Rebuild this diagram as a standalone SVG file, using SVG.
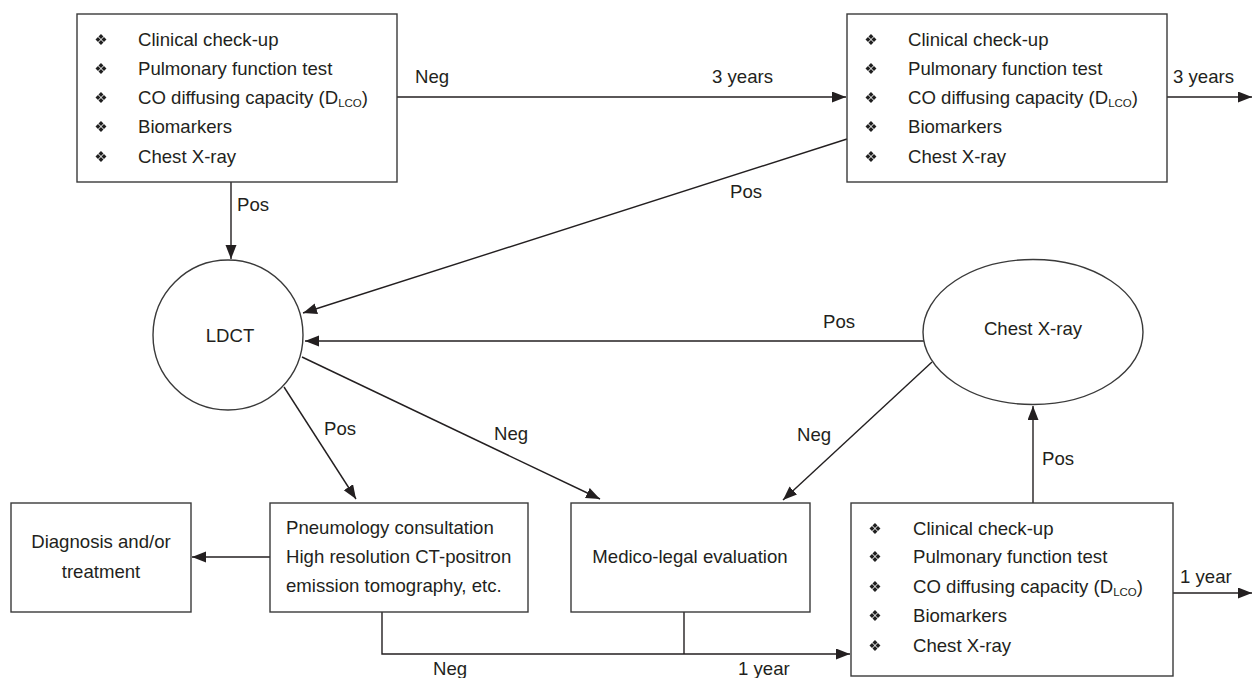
<svg xmlns="http://www.w3.org/2000/svg" width="1253" height="678" viewBox="0 0 1253 678">
<defs>
<style>
text{font-family:"Liberation Sans",Arial,sans-serif;font-size:18.6px;fill:#231f20}
.b{font-family:"DejaVu Sans",sans-serif;font-size:15px;fill:#231f20}
.bg{filter:url(#gray)}
.sub{font-size:11.5px}
.box{fill:#fff;stroke:#3a3a3a;stroke-width:1.4}
.ln{fill:none;stroke:#231f20;stroke-width:1.4}
.mid{text-anchor:middle}
</style>
<filter id="gray" x="-50%" y="-50%" width="200%" height="200%" color-interpolation-filters="sRGB">
<feColorMatrix type="saturate" values="0"/>
</filter>
<marker id="ah" markerWidth="15" markerHeight="12" refX="14" refY="5.5" orient="auto" markerUnits="userSpaceOnUse">
<path d="M0,0 L14,5.5 L0,11 z" fill="#231f20"/>
</marker>
</defs>
<rect width="1253" height="678" fill="#fff"/>

<g id="connectors">
<path class="ln" d="M397,97 H846" marker-end="url(#ah)"/>
<path class="ln" d="M1167,97 H1252" marker-end="url(#ah)"/>
<path class="ln" d="M231,182 V259" marker-end="url(#ah)"/>
<path class="ln" d="M847,139 L303,313" marker-end="url(#ah)"/>
<path class="ln" d="M924,341 H305" marker-end="url(#ah)"/>
<path class="ln" d="M284,387 L356,499" marker-end="url(#ah)"/>
<path class="ln" d="M302,357 L600,499" marker-end="url(#ah)"/>
<path class="ln" d="M932,362 L783,500" marker-end="url(#ah)"/>
<path class="ln" d="M1033,503 V406" marker-end="url(#ah)"/>
<path class="ln" d="M270,557 H192" marker-end="url(#ah)"/>
<path class="ln" d="M382,612 V654 H850" marker-end="url(#ah)"/>
<path class="ln" d="M684,612 V654"/>
<path class="ln" d="M1173,593 H1252" marker-end="url(#ah)"/>
<text x="415" y="83">Neg</text>
<text x="712" y="83">3 years</text>
<text x="1173" y="83">3 years</text>
<text x="237" y="211">Pos</text>
<text x="730" y="198">Pos</text>
<text x="823" y="328">Pos</text>
<text x="324" y="435">Pos</text>
<text x="494" y="440">Neg</text>
<text x="797" y="441">Neg</text>
<text x="1042" y="465">Pos</text>
<text x="433" y="675">Neg</text>
<text x="738" y="675">1 year</text>
<text x="1180" y="583">1 year</text>
</g>

<g id="box1">
<rect class="box" x="77" y="14" width="320" height="168"/>
<g class="bg">
<text class="b mid" x="101" y="45">❖</text>
<text class="b mid" x="101" y="74">❖</text>
<text class="b mid" x="101" y="103">❖</text>
<text class="b mid" x="101" y="132">❖</text>
<text class="b mid" x="101" y="162">❖</text>
</g>
<text x="138" y="46">Clinical check-up</text>
<text x="138" y="75">Pulmonary function test</text>
<text x="138" y="104">CO diffusing capacity (D<tspan class="sub" dy="3">LCO</tspan><tspan dy="-3">)</tspan></text>
<text x="138" y="133">Biomarkers</text>
<text x="138" y="163">Chest X-ray</text>
</g>

<g id="box2">
<rect class="box" x="847" y="14" width="320" height="168"/>
<g class="bg">
<text class="b mid" x="871" y="45">❖</text>
<text class="b mid" x="871" y="74">❖</text>
<text class="b mid" x="871" y="103">❖</text>
<text class="b mid" x="871" y="132">❖</text>
<text class="b mid" x="871" y="162">❖</text>
</g>
<text x="908" y="46">Clinical check-up</text>
<text x="908" y="75">Pulmonary function test</text>
<text x="908" y="104">CO diffusing capacity (D<tspan class="sub" dy="3">LCO</tspan><tspan dy="-3">)</tspan></text>
<text x="908" y="133">Biomarkers</text>
<text x="908" y="163">Chest X-ray</text>
</g>

<g id="ldct">
<circle class="box" cx="228" cy="335" r="75"/>
<text class="mid" x="230" y="342">LDCT</text>
</g>

<g id="chestxray">
<ellipse class="box" cx="1033" cy="332" rx="110" ry="72.5"/>
<text class="mid" x="1033" y="335">Chest X-ray</text>
</g>

<g id="diagnosis">
<rect class="box" x="11" y="503" width="180" height="109"/>
<text class="mid" x="101" y="548">Diagnosis and/or</text>
<text class="mid" x="101" y="578">treatment</text>
</g>

<g id="pneumology">
<rect class="box" x="270" y="503" width="258" height="109"/>
<text x="286" y="534">Pneumology consultation</text>
<text x="286" y="563">High resolution CT-positron</text>
<text x="286" y="592">emission tomography, etc.</text>
</g>

<g id="medicolegal">
<rect class="box" x="571" y="503" width="239" height="109"/>
<text class="mid" x="690" y="563">Medico-legal evaluation</text>
</g>

<g id="box3">
<rect class="box" x="851" y="503" width="322" height="173"/>
<g class="bg">
<text class="b mid" x="875" y="534">❖</text>
<text class="b mid" x="875" y="562">❖</text>
<text class="b mid" x="875" y="592">❖</text>
<text class="b mid" x="875" y="621">❖</text>
<text class="b mid" x="875" y="651">❖</text>
</g>
<text x="913" y="535">Clinical check-up</text>
<text x="913" y="563">Pulmonary function test</text>
<text x="913" y="593">CO diffusing capacity (D<tspan class="sub" dy="3">LCO</tspan><tspan dy="-3">)</tspan></text>
<text x="913" y="622">Biomarkers</text>
<text x="913" y="652">Chest X-ray</text>
</g>
</svg>
